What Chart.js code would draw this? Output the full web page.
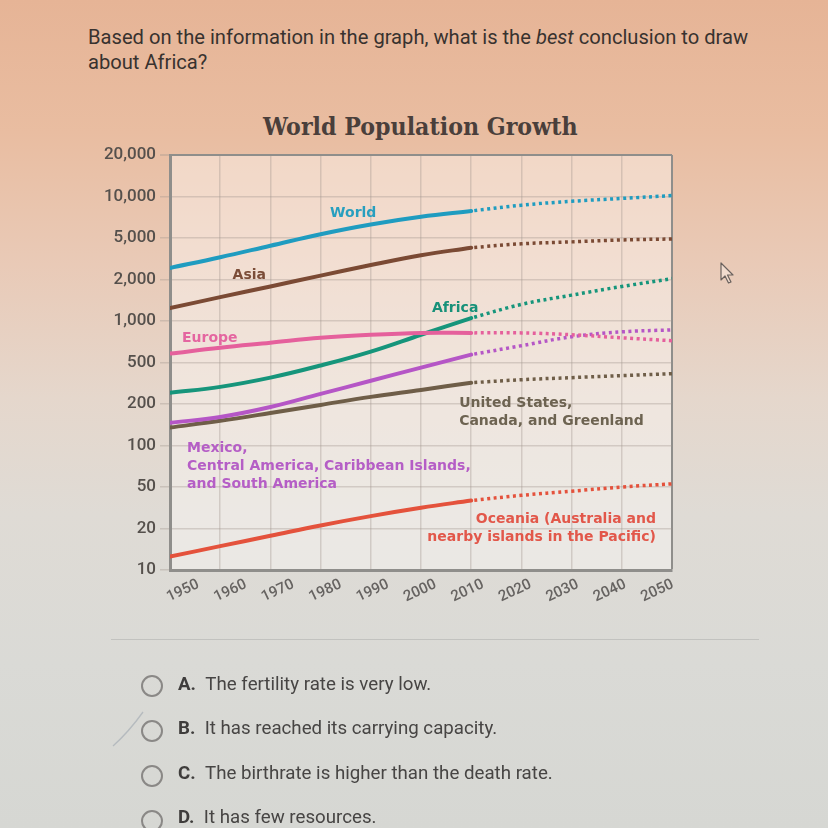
<!DOCTYPE html>
<html>
<head>
<meta charset="utf-8">
<script src="https://cdn.jsdelivr.net/npm/chart.js@4.4.1/dist/chart.umd.min.js"></script>
<style>
html,body{margin:0;padding:0;width:828px;height:828px;overflow:hidden;}
body{position:relative;font-family:Roboto,"Noto Sans",sans-serif;
background:linear-gradient(180deg,#e6b496 0%,#e9bda1 16%,#e9cab7 32%,#e5d7cc 48%,#dfdbd5 62%,#dadad6 80%,#d6d7d3 100%);}
#q{position:absolute;left:88px;top:25px;font-size:21px;line-height:25px;color:#38322f;white-space:nowrap;transform-origin:0 0;}
#q i{font-style:italic;}
#title{position:absolute;top:112px;left:0;font-family:"DejaVu Serif",serif;font-weight:bold;font-size:24px;color:#4a3f3b;white-space:nowrap;transform-origin:0 0;}
#c{position:absolute;left:0;top:0;}
.sep{position:absolute;left:111px;top:639px;width:648px;height:1px;background:rgba(150,150,150,0.35);}
.opt{position:absolute;left:0;top:0;width:828px;height:828px;}
.otext{position:absolute;font-size:18px;color:#474544;white-space:nowrap;transform-origin:0 50%;}
.otext b{font-weight:bold;color:#3f3d3c;margin-right:9px;}
</style>
</head>
<body>
<div id="q"><span id="q1">Based on the information in the graph, what is the <i>best</i> conclusion to draw</span><br>about Africa?</div>
<div id="title">World Population Growth</div>
<canvas id="c" width="828" height="828"></canvas>
<div class="sep"></div>
<svg class="opt" width="828" height="828" xmlns="http://www.w3.org/2000/svg">
  <g fill="none" stroke="#8a8886" stroke-width="2">
    <circle cx="152" cy="686" r="10"/>
    <circle cx="152" cy="731" r="10"/>
    <circle cx="152" cy="776" r="10"/>
    <circle cx="152" cy="821" r="10"/>
  </g>
  <path d="M113 746 C122 738 133 726 143 712" stroke="rgba(140,150,165,0.45)" stroke-width="1.3" fill="none"/>
  <path d="M721 263 L721 280 L725 276 L728.5 283 L731 282 L727.5 275 L733 275 Z" fill="rgba(245,230,220,0.6)" stroke="#6a625e" stroke-width="1.2" stroke-linejoin="round"/>
</svg>
<div class="otext" style="left:178px;top:673px;"><b>A.</b>The fertility rate is very low.</div>
<div class="otext" style="left:178px;top:717px;"><b>B.</b>It has reached its carrying capacity.</div>
<div class="otext" style="left:178px;top:762px;"><b>C.</b>The birthrate is higher than the death rate.</div>
<div class="otext" style="left:178px;top:806px;"><b>D.</b>It has few resources.</div>
<script>
// ---------------- data (millions of people) ----------------
const years = [1950, 1960, 1970, 1980, 1990, 2000, 2010];
const projYears = [2010, 2020, 2030, 2040, 2050];
const yTickValues = [10, 20, 50, 100, 200, 500, 1000, 2000, 5000, 10000, 20000];
const yTickLabels = ['10', '20', '50', '100', '200', '500', '1,000', '2,000', '5,000', '10,000', '20,000'];

const world = [2580, 3270, 4220, 5330, 6270, 7130, 7850];
const worldProj = [7850, 8650, 9230, 9680, 10160];
const asia = [1240, 1490, 1780, 2180, 2750, 3410, 4040];
const asiaProj = [4040, 4400, 4590, 4790, 4890];
const europe = [580, 640, 695, 755, 795, 820, 820];
const europeProj = [820, 820, 795, 755, 720];
const africa = [256, 292, 358, 468, 600, 795, 1050];
const africaProj = [1050, 1320, 1540, 1780, 2040];
const latinAmerica = [146, 161, 190, 250, 334, 447, 570];
const latinAmericaProj = [570, 662, 768, 834, 862];
const northAmerica = [135, 151, 172, 197, 234, 273, 320];
const northAmericaProj = [320, 342, 358, 374, 391];
const oceania = [12.5, 14.9, 17.7, 21.4, 26.3, 31.6, 37.1];
const oceaniaProj = [37.1, 41.6, 45.6, 50, 52.7];

// ---------------- helpers ----------------
// the axis puts its labelled values at equal steps; position between two labels is logarithmic
function toPos(v) {
  for (let k = 0; k < yTickValues.length - 1; k++) {
    const a = yTickValues[k], b = yTickValues[k + 1];
    if (v <= b || k === yTickValues.length - 2) return k + Math.log(v / a) / Math.log(b / a);
  }
}
function pts(xs, vs) { return xs.map((x, i) => ({ x: x, y: toPos(vs[i]) })); }

const series = [
  { name: 'World', hist: world, proj: worldProj, color: '#1f9cc0' },
  { name: 'Asia', hist: asia, proj: asiaProj, color: '#7b4a34' },
  { name: 'Europe', hist: europe, proj: europeProj, color: '#e5609c' },
  { name: 'Africa', hist: africa, proj: africaProj, color: '#16957b' },
  { name: 'Latin America', hist: latinAmerica, proj: latinAmericaProj, color: '#b556c6' },
  { name: 'North America', hist: northAmerica, proj: northAmericaProj, color: '#6f5e48' },
  { name: 'Oceania', hist: oceania, proj: oceaniaProj, color: '#e4523c' }
];

const datasets = [];
series.forEach(s => {
  datasets.push({ label: s.name, data: pts(years, s.hist), borderColor: s.color, borderWidth: 4,
    tension: 0.4, pointRadius: 0, borderCapStyle: 'round' });
  datasets.push({ label: s.name + ' (projected)', data: pts(projYears, s.proj), borderColor: s.color, borderWidth: 3.5,
    borderDash: [3, 3.5], borderDashOffset: -3, tension: 0.4, pointRadius: 0, borderCapStyle: 'butt' });
});

// in-chart labels, anchored in data space (year, axis step)
const labelDefs = [
  { lines: ['World'], year: 1986.5, step: 8.60, align: 'center', color: '#279fbf' },
  { lines: ['Asia'], year: 1965.8, step: 7.11, align: 'center', color: '#7b4d38' },
  { lines: ['Africa'], year: 2006.8, step: 6.31, align: 'center', color: '#179179' },
  { lines: ['Europe'], year: 1952.4, step: 5.57, align: 'left', color: '#e466a0' },
  { lines: ['United States,', 'Canada, and Greenland'], year: 2007.6, step: 4.02, align: 'left', color: '#6d6351' },
  { lines: ['Mexico,', 'Central America, Caribbean Islands,', 'and South America'], year: 1953.4, step: 2.92, align: 'left', color: '#b55ec6' },
  { lines: ['Oceania (Australia and', 'nearby islands in the Pacific)'], year: 2046.8, step: 1.23, align: 'right', color: '#e2574a' }
];

const plotBg = {
  id: 'plotBg',
  beforeDraw(chart) {
    const { ctx, chartArea: a } = chart;
    ctx.save();
    ctx.fillStyle = 'rgba(255,252,250,0.40)';
    ctx.fillRect(a.left, a.top, a.right - a.left, a.bottom - a.top);
    ctx.restore();
  }
};

const textLabels = {
  id: 'textLabels',
  afterDatasetsDraw(chart) {
    const { ctx, scales } = chart;
    ctx.save();
    ctx.font = 'bold 14px "DejaVu Sans", sans-serif';
    ctx.textBaseline = 'middle';
    labelDefs.forEach(d => {
      const x = scales.x.getPixelForValue(d.year);
      const y = scales.y.getPixelForValue(d.step);
      ctx.fillStyle = d.color;
      ctx.textAlign = d.align;
      d.lines.forEach((t, i) => ctx.fillText(t, x, y + i * 18));
    });
    // rotated year labels under the x axis
    const xs = scales.x, a = chart.chartArea;
    ctx.font = '500 15px Roboto, sans-serif';
    ctx.fillStyle = '#666361';
    ctx.textAlign = 'center';
    xs.ticks.forEach(t => {
      const px = xs.getPixelForValue(t.value);
      const cx = a.left + 13 + (px - a.left) * 0.945;
      ctx.save();
      ctx.translate(cx, a.bottom + 21);
      ctx.rotate(-25 * Math.PI / 180);
      ctx.fillText(String(t.value), 0, 0);
      ctx.restore();
    });
    ctx.restore();
  }
};

const gridSoft = 'rgba(160,150,140,0.36)';
const frame = '#8f8e8b';

new Chart(document.getElementById('c'), {
  type: 'line',
  data: { datasets: datasets },
  options: {
    responsive: false,
    animation: false,
    layout: { padding: { left: 0, right: 156, top: 155, bottom: 208 } },
    plugins: { legend: { display: false }, tooltip: { enabled: false } },
    scales: {
      x: {
        type: 'linear', min: 1950, max: 2050,
        ticks: { stepSize: 10, display: false },
        grid: {
          drawTicks: false, tickLength: 0,
          color: c => (c.tick && c.tick.value === 2050) ? frame : gridSoft,
          lineWidth: c => (c.tick && c.tick.value === 2050) ? 2 : 1.5
        },
        border: { color: frame, width: 3 },
        afterFit: s => { s.height = 50; }
      },
      y: {
        type: 'linear', min: 0, max: 10,
        ticks: {
          stepSize: 1, padding: 4,
          callback: v => yTickLabels[v],
          font: { family: 'Roboto', size: 17, weight: '500' },
          color: '#55504c'
        },
        grid: {
          tickLength: 10,
          color: c => (c.tick && c.tick.value === 10) ? frame : gridSoft,
          tickColor: gridSoft,
          lineWidth: c => (c.tick && c.tick.value === 10) ? 2 : 1.5
        },
        border: { color: frame, width: 3 },
        afterFit: s => { s.width = 170; }
      }
    }
  },
  plugins: [plotBg, textLabels]
});

// fit the photographed (slightly condensed) text widths; offsetWidth ignores transforms
function fit() {
  const q = document.getElementById('q'), q1 = document.getElementById('q1');
  q.style.transform = 'scaleX(' + (660 / q1.offsetWidth) + ')';
  const t = document.getElementById('title');
  t.style.left = (420 - 315 / 2) + 'px';
  t.style.transform = 'scaleX(' + (315 / t.offsetWidth) + ')';
  const opts = document.querySelectorAll('.otext');
  const so = (553 - 178) / opts[2].offsetWidth;
  opts.forEach(o => o.style.transform = 'scaleX(' + so + ')');
}
fit();
if (document.fonts && document.fonts.ready) document.fonts.ready.then(fit);
</script>
</body>
</html>
